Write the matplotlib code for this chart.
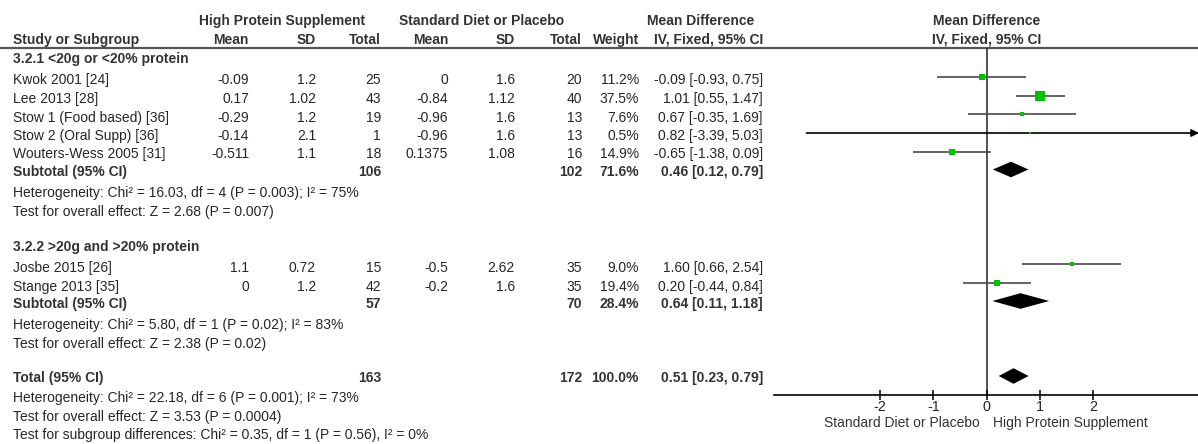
import matplotlib
matplotlib.use("Agg")
import matplotlib.pyplot as plt
import numpy as np

plt.rcParams["font.family"] = ["Liberation Sans", "DejaVu Sans"]

# ---- study data -------------------------------------------------------------
group_titles = ["3.2.1 <20g or <20% protein", "3.2.2 >20g and >20% protein"]

g1_names = ["Kwok 2001 [24]", "Lee 2013 [28]", "Stow 1 (Food based) [36]",
            "Stow 2 (Oral Supp) [36]", "Wouters-Wess 2005 [31]"]
g1_hp_mean = [-0.09, 0.17, -0.29, -0.14, -0.511]
g1_hp_sd = [1.2, 1.02, 1.2, 2.1, 1.1]
g1_hp_n = [25, 43, 19, 1, 18]
g1_ctl_mean = [0, -0.84, -0.96, -0.96, 0.1375]
g1_ctl_sd = [1.6, 1.12, 1.6, 1.6, 1.08]
g1_ctl_n = [20, 40, 13, 13, 16]
g1_weight = [11.2, 37.5, 7.6, 0.5, 14.9]
g1_md = [-0.09, 1.01, 0.67, 0.82, -0.65]
g1_lo = [-0.93, 0.55, -0.35, -3.39, -1.38]
g1_hi = [0.75, 1.47, 1.69, 5.03, 0.09]

g2_names = ["Josbe 2015 [26]", "Stange 2013 [35]"]
g2_hp_mean = [1.1, 0]
g2_hp_sd = [0.72, 1.2]
g2_hp_n = [15, 42]
g2_ctl_mean = [-0.5, -0.2]
g2_ctl_sd = [2.62, 1.6]
g2_ctl_n = [35, 35]
g2_weight = [9.0, 19.4]
g2_md = [1.60, 0.20]
g2_lo = [0.66, -0.44]
g2_hi = [2.54, 0.84]

# pooled estimates: subgroup 1, subgroup 2, overall
pool_labels = ["Subtotal (95% CI)", "Subtotal (95% CI)", "Total (95% CI)"]
pool_hp_n = [106, 57, 163]
pool_ctl_n = [102, 70, 172]
pool_weight = [71.6, 28.4, 100.0]
pool_md = [0.46, 0.64, 0.51]
pool_lo = [0.12, 0.11, 0.23]
pool_hi = [0.79, 1.18, 0.79]

g1_stats = ["Heterogeneity: Chi\u00b2 = 16.03, df = 4 (P = 0.003); I\u00b2 = 75%",
            "Test for overall effect: Z = 2.68 (P = 0.007)"]
g2_stats = ["Heterogeneity: Chi\u00b2 = 5.80, df = 1 (P = 0.02); I\u00b2 = 83%",
            "Test for overall effect: Z = 2.38 (P = 0.02)"]
total_stats = ["Heterogeneity: Chi\u00b2 = 22.18, df = 6 (P = 0.001); I\u00b2 = 73%",
               "Test for overall effect: Z = 3.53 (P = 0.0004)",
               "Test for subgroup differences: Chi\u00b2 = 0.35, df = 1 (P = 0.56), I\u00b2 = 0%"]

axis_ticks = [-2, -1, 0, 1, 2]
axis_range = (-4, 4)
favours = ["Standard Diet or Placebo", "High Protein Supplement"]

# ---- figure layout (pixel coordinates, y grows downward) ---------------------
W, H = 1198, 444
fig = plt.figure(figsize=(W / 100, H / 100), dpi=100)
ax_t = fig.add_axes([0, 0, 1, 1])
ax_t.set_xlim(0, W)
ax_t.set_ylim(H, 0)
ax_t.axis("off")

FS = 10
TXT = "#262626"
BOLD = "#333333"
CAP = 4.9  # half cap height in px: baseline offset from visual centre

# column right edges
X_NAME = 13
X_HP_MEAN, X_HP_SD, X_HP_N = 249, 316, 381
X_C_MEAN, X_C_SD, X_C_N = 448, 515, 582
X_W, X_CI = 639, 763


def put(x, y, s, ha="right", bold=False, color=None, size=FS):
    ax_t.text(x, y + CAP, s, ha=ha, va="baseline", fontsize=size,
              fontweight="bold" if bold else "normal",
              color=color or (BOLD if bold else TXT))


# headers
put(282, 20.5, "High Protein Supplement", ha="center", bold=True)
put(482, 20.5, "Standard Diet or Placebo", ha="center", bold=True)
put(701, 20.5, "Mean Difference", ha="center", bold=True)
put(987, 20.5, "Mean Difference", ha="center", bold=True)
put(X_NAME, 39, "Study or Subgroup", ha="left", bold=True)
for x, s in [(X_HP_MEAN, "Mean"), (X_HP_SD, "SD"), (X_HP_N, "Total"),
             (X_C_MEAN, "Mean"), (X_C_SD, "SD"), (X_C_N, "Total"),
             (X_W, "Weight"), (X_CI, "IV, Fixed, 95% CI")]:
    put(x, 39, s, bold=True)
put(987, 39, "IV, Fixed, 95% CI", ha="center", bold=True)
ax_t.plot([0, W], [48, 48], color="#555555", lw=1.6, solid_capstyle="butt")

# forest plot axes
AX_L, AX_R, AX_TOP, AX_BOT = 774, 1199, 48, 395
ax_f = fig.add_axes([AX_L / W, 1 - AX_BOT / H, (AX_R - AX_L) / W, (AX_BOT - AX_TOP) / H])
ax_f.patch.set_alpha(0)
ax_f.set_xlim(*axis_range)
ax_f.set_ylim(AX_BOT, AX_TOP)
for side in ["top", "left", "right"]:
    ax_f.spines[side].set_visible(False)
ax_f.spines["bottom"].set_color("black")
ax_f.spines["bottom"].set_linewidth(1.2)
ax_f.set_yticks([])
ax_f.set_xticks(axis_ticks)
ax_f.set_xticklabels([f"{t:g}" for t in axis_ticks])
ax_f.tick_params(axis="x", direction="inout", length=7.5, width=1.1,
                 labelsize=FS + 0.4, pad=0, colors="black", labelcolor=TXT)
ax_f.axvline(0, color="#222222", lw=1.1, zorder=1)
ax_t.text(980, 423, favours[0], ha="right", va="center", fontsize=FS, color="#333333")
ax_t.text(993, 423, favours[1], ha="left", va="center", fontsize=FS, color="#333333")

GREEN = "#00c000"


def study_rows(text_ys, mark_ys, names, hm, hs, hn, cm, cs, cn, w, md, lo, hi):
    for i, name in enumerate(names):
        y = text_ys[i]
        put(X_NAME, y, name, ha="left")
        put(X_HP_MEAN, y, f"{hm[i]:g}")
        put(X_HP_SD, y, f"{hs[i]:g}")
        put(X_HP_N, y, f"{hn[i]}")
        put(X_C_MEAN, y, f"{cm[i]:g}")
        put(X_C_SD, y, f"{cs[i]:g}")
        put(X_C_N, y, f"{cn[i]}")
        put(X_W, y, f"{w[i]:.1f}%")
        put(X_CI, y, f"{md[i]:.2f} [{lo[i]:.2f}, {hi[i]:.2f}]")

        ym = mark_ys[i]
        x0, x1 = axis_range
        if hi[i] > x1:
            ax_f.annotate("", xy=(x1, ym), xytext=(max(lo[i], x0), ym),
                          arrowprops=dict(arrowstyle="-|>", color="black", lw=1.2,
                                          mutation_scale=11, shrinkA=0, shrinkB=0),
                          annotation_clip=False, zorder=2)
        else:
            ax_f.plot([max(lo[i], x0), hi[i]], [ym, ym], color="#4a4a4a",
                      lw=1.2, zorder=2, solid_capstyle="butt")
        side_px = max(1.55 * np.sqrt(w[i]), 2.0)
        ax_f.plot(md[i], ym, marker="s", ms=side_px * 0.72, color=GREEN,
                  mec=GREEN, mew=0, zorder=3, clip_on=False)


def pooled_row(y_text, y_mark, k):
    put(X_NAME, y_text, pool_labels[k], ha="left", bold=True)
    put(X_HP_N, y_text, f"{pool_hp_n[k]}", bold=True)
    put(X_C_N, y_text, f"{pool_ctl_n[k]}", bold=True)
    put(X_W, y_text, f"{pool_weight[k]:.1f}%", bold=True)
    put(X_CI, y_text, f"{pool_md[k]:.2f} [{pool_lo[k]:.2f}, {pool_hi[k]:.2f}]", bold=True)
    h = 7.8
    ax_f.fill([pool_lo[k], pool_md[k], pool_hi[k], pool_md[k]],
              [y_mark, y_mark - h, y_mark, y_mark + h],
              color="black", lw=0, zorder=3)


# subgroup 1
put(X_NAME, 58, group_titles[0], ha="left", bold=True)
study_rows([79, 98, 117, 135, 153], [77, 96, 114.5, 133, 152], g1_names,
           g1_hp_mean, g1_hp_sd, g1_hp_n, g1_ctl_mean, g1_ctl_sd, g1_ctl_n,
           g1_weight, g1_md, g1_lo, g1_hi)
pooled_row(171, 169.5, 0)
for y, s in zip([192, 211], g1_stats):
    put(X_NAME, y, s, ha="left")

# subgroup 2
put(X_NAME, 246, group_titles[1], ha="left", bold=True)
study_rows([267, 286], [264.5, 283], g2_names,
           g2_hp_mean, g2_hp_sd, g2_hp_n, g2_ctl_mean, g2_ctl_sd, g2_ctl_n,
           g2_weight, g2_md, g2_lo, g2_hi)
pooled_row(303, 301, 1)
for y, s in zip([324, 343], g2_stats):
    put(X_NAME, y, s, ha="left")

# overall
pooled_row(377, 376, 2)
for y, s in zip([397, 416, 434], total_stats):
    put(X_NAME, y, s, ha="left")

fig.savefig("out.png", dpi=100)
